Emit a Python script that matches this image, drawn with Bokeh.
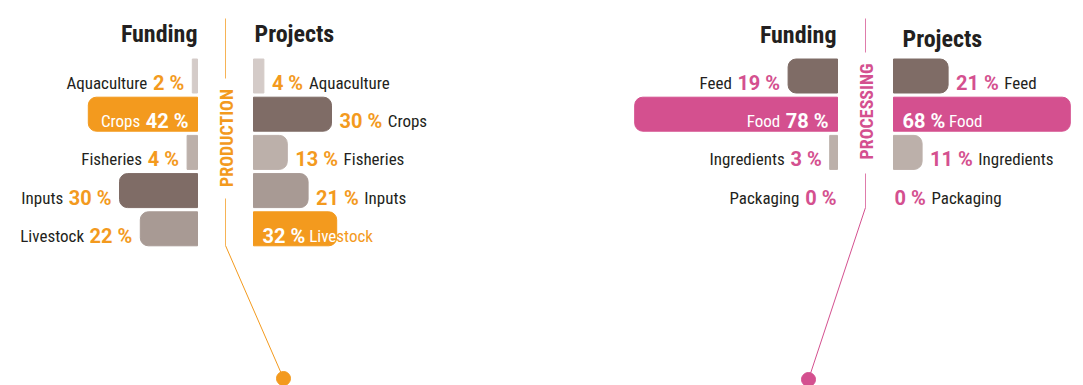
import math
from bokeh.plotting import figure
from bokeh.models import Range1d, ColumnDataSource
from bokeh.embed import file_html
from bokeh.resources import INLINE
from bokeh.core.properties import value

# ---------------- data ----------------
production_categories = ["Aquaculture", "Crops", "Fisheries", "Inputs", "Livestock"]
production_funding = [2, 42, 4, 30, 22]
production_projects = [4, 30, 13, 21, 32]

processing_categories = ["Feed", "Food", "Ingredients", "Packaging"]
processing_funding = [19, 78, 3, 0]
processing_projects = [21, 68, 11, 0]

panel_titles = ["PRODUCTION", "PROCESSING"]
column_titles = ["Funding", "Projects"]

# ---------------- styles ----------------
ORANGE = "#F39A1E"
PINK = "#D4508F"
DARK = "#7F6C66"
MID = "#A89A94"
LIGHT = "#BCB0AA"
PALE = "#D4CBC8"
INK = "#231F20"

production_funding_colors = [PALE, ORANGE, LIGHT, DARK, MID]
production_projects_colors = [PALE, DARK, LIGHT, MID, ORANGE]
processing_funding_colors = [DARK, PINK, LIGHT, LIGHT]
processing_projects_colors = [DARK, PINK, LIGHT, LIGHT]

NAME_FONT = "'Liberation Sans Narrow', 'Roboto Condensed', Roboto, sans-serif"
HEAD_FONT = NAME_FONT
VALUE_FONT = "Roboto, sans-serif"
NAME_SIZE = 17
VALUE_SIZE = 20
HEAD_SIZE = 24
TITLE_SIZE = 18

W, H = 1083, 385
SCALE = 2.6        # px per percent
BAR_H = 34
ROW0 = 75.5
PITCH = 38.2
RADIUS = 8

# approximate advance widths (em)
ARIAL = {"A": .667, "C": .722, "F": .611, "I": .278, "L": .556, "P": .667,
         "a": .556, "c": .5, "d": .556, "e": .556, "g": .556, "i": .222,
         "k": .5, "l": .222, "n": .556, "o": .556, "p": .556, "r": .333,
         "s": .5, "t": .278, "u": .556, "v": .5, "q": .556, "h": .556,
         " ": .278}
RBOLD = {" ": .26, "%": .78}


def w_name(s):
    return sum(ARIAL.get(c, .5) for c in s) * 0.82 * NAME_SIZE


def w_value(s):
    return sum(RBOLD.get(c, .5615) for c in s) * VALUE_SIZE


def fmt(v):
    return f"{v} %"


panels = [
    dict(cats=production_categories, fund=production_funding, proj=production_projects,
         fcol=production_funding_colors, pcol=production_projects_colors, accent=ORANGE,
         title=panel_titles[0], cx=225, title_y=137.5, upper=(18, 78), lower=(198, 245),
         dot=(283, 378), head_f=(197, 33), head_p=(254, 33)),
    dict(cats=processing_categories, fund=processing_funding, proj=processing_projects,
         fcol=processing_funding_colors, pcol=processing_projects_colors, accent=PINK,
         title=panel_titles[1], cx=865, title_y=111, upper=(18, 52), lower=(173, 207),
         dot=(808, 379), head_f=(836, 34), head_p=(902, 38)),
]

p = figure(width=W, height=H, x_range=Range1d(0, W), y_range=Range1d(H, 0),
           output_backend="svg", toolbar_location=None, min_border=0,
           x_axis_location=None, y_axis_location=None)
p.grid.visible = False
p.outline_line_color = None
p.background_fill_color = "white"
p.border_fill_color = "white"

bars = {k: dict(y=[], left=[], right=[], color=[]) for k in ("f_round", "f_sq", "p_round", "p_sq")}
texts = {}


def add_text(key, x, y, s, color):
    d = texts.setdefault(key, dict(x=[], y=[], text=[], color=[]))
    d["x"].append(x)
    d["y"].append(y)
    d["text"].append(s)
    d["color"].append(color)


for pn in panels:
    cx = pn["cx"]
    ef = cx - 28
    ep = cx + 28
    acc = pn["accent"]
    fmax = max(pn["fund"])
    pmax = max(pn["proj"])
    for i, cat in enumerate(pn["cats"]):
        yc = ROW0 + i * PITCH
        yb = yc + 7
        # ---- funding (bars to the left) ----
        v = pn["fund"][i]
        L = ef - v * SCALE
        if v > 0:
            k = "f_round" if v * SCALE >= 15 else "f_sq"
            bars[k]["y"].append(yc); bars[k]["left"].append(L)
            bars[k]["right"].append(ef); bars[k]["color"].append(pn["fcol"][i])
        vs = fmt(v)
        if v == fmax:
            xv = ef - 9
            add_text(("v", "right"), xv, yb, vs, "white")
            add_text(("n", "right"), xv - w_value(vs) - 5, yb, cat, "white")
        else:
            xv = L - (8 if v > 0 else 1)
            add_text(("v", "right"), xv, yb, vs, acc)
            add_text(("n", "right"), xv - w_value(vs) - 5, yb, cat, INK)
        # ---- projects (bars to the right) ----
        v = pn["proj"][i]
        R = ep + v * SCALE
        if v > 0:
            k = "p_round" if v * SCALE >= 15 else "p_sq"
            bars[k]["y"].append(yc); bars[k]["left"].append(ep)
            bars[k]["right"].append(R); bars[k]["color"].append(pn["pcol"][i])
        vs = fmt(v)
        if v == pmax:
            xv = ep + 9
            add_text(("v", "left"), xv, yb, vs, "white")
            xn = xv + w_value(vs) + 5
            # split the name where it leaves the bar
            pos = xn
            split = len(cat)
            for j, c in enumerate(cat):
                cw = ARIAL.get(c, .5) * 0.82 * NAME_SIZE
                if pos + cw / 2 > R:
                    split = j
                    break
                pos += cw
            inside, outside = cat[:split], cat[split:]
            xs = xn + w_name(inside)
            if inside:
                add_text(("n", "right"), xs, yb, inside, "white")
            if outside:
                add_text(("n", "left"), xs, yb, outside, acc)
        else:
            xv = R + (8 if v > 0 else 1)
            add_text(("v", "left"), xv, yb, vs, acc)
            add_text(("n", "left"), xv + w_value(vs) + 5, yb, cat, INK)

    # headers
    add_text(("h", "right"), pn["head_f"][0], pn["head_f"][1], column_titles[0], INK)
    add_text(("h", "left"), pn["head_p"][0], pn["head_p"][1], column_titles[1], INK)

    # connector lines and dot
    p.line(x=[cx, cx], y=list(pn["upper"]), line_color=acc, line_width=1, line_alpha=0.75)
    p.line(x=[cx, cx], y=list(pn["lower"]), line_color=acc, line_width=1, line_alpha=0.75)
    p.line(x=[cx, pn["dot"][0]], y=[pn["lower"][1], pn["dot"][1]], line_color=acc, line_width=1)
    p.scatter(x=[pn["dot"][0]], y=[pn["dot"][1]], size=14, color=acc)

    # vertical title
    p.text(x=[cx + 1], y=[pn["title_y"]], text=[pn["title"]], angle=math.pi / 2,
           text_font=value(HEAD_FONT), text_font_size=value(f"{TITLE_SIZE}px"),
           text_font_style="bold", text_color=acc, text_align="center",
           text_baseline="middle")

radii = {"f_round": (RADIUS, 0, 0, RADIUS), "p_round": (0, RADIUS, RADIUS, 0),
         "f_sq": 0, "p_sq": 0}
for k, d in bars.items():
    if not d["y"]:
        continue
    p.hbar(y="y", left="left", right="right", height=BAR_H, color="color",
           border_radius=radii[k], source=ColumnDataSource(d))

fonts = {"v": (VALUE_FONT, VALUE_SIZE), "n": (NAME_FONT, NAME_SIZE), "h": (HEAD_FONT, HEAD_SIZE)}
for (kind, align), d in texts.items():
    font, size = fonts[kind]
    p.text(x="x", y="y", text="text", text_color="color", source=ColumnDataSource(d),
           text_font=value(font), text_font_size=value(f"{size}px"),
           text_font_style="normal" if kind == "n" else "bold",
           text_align=align, text_baseline="alphabetic")

open("out.html", "w").write(file_html(p, INLINE))
